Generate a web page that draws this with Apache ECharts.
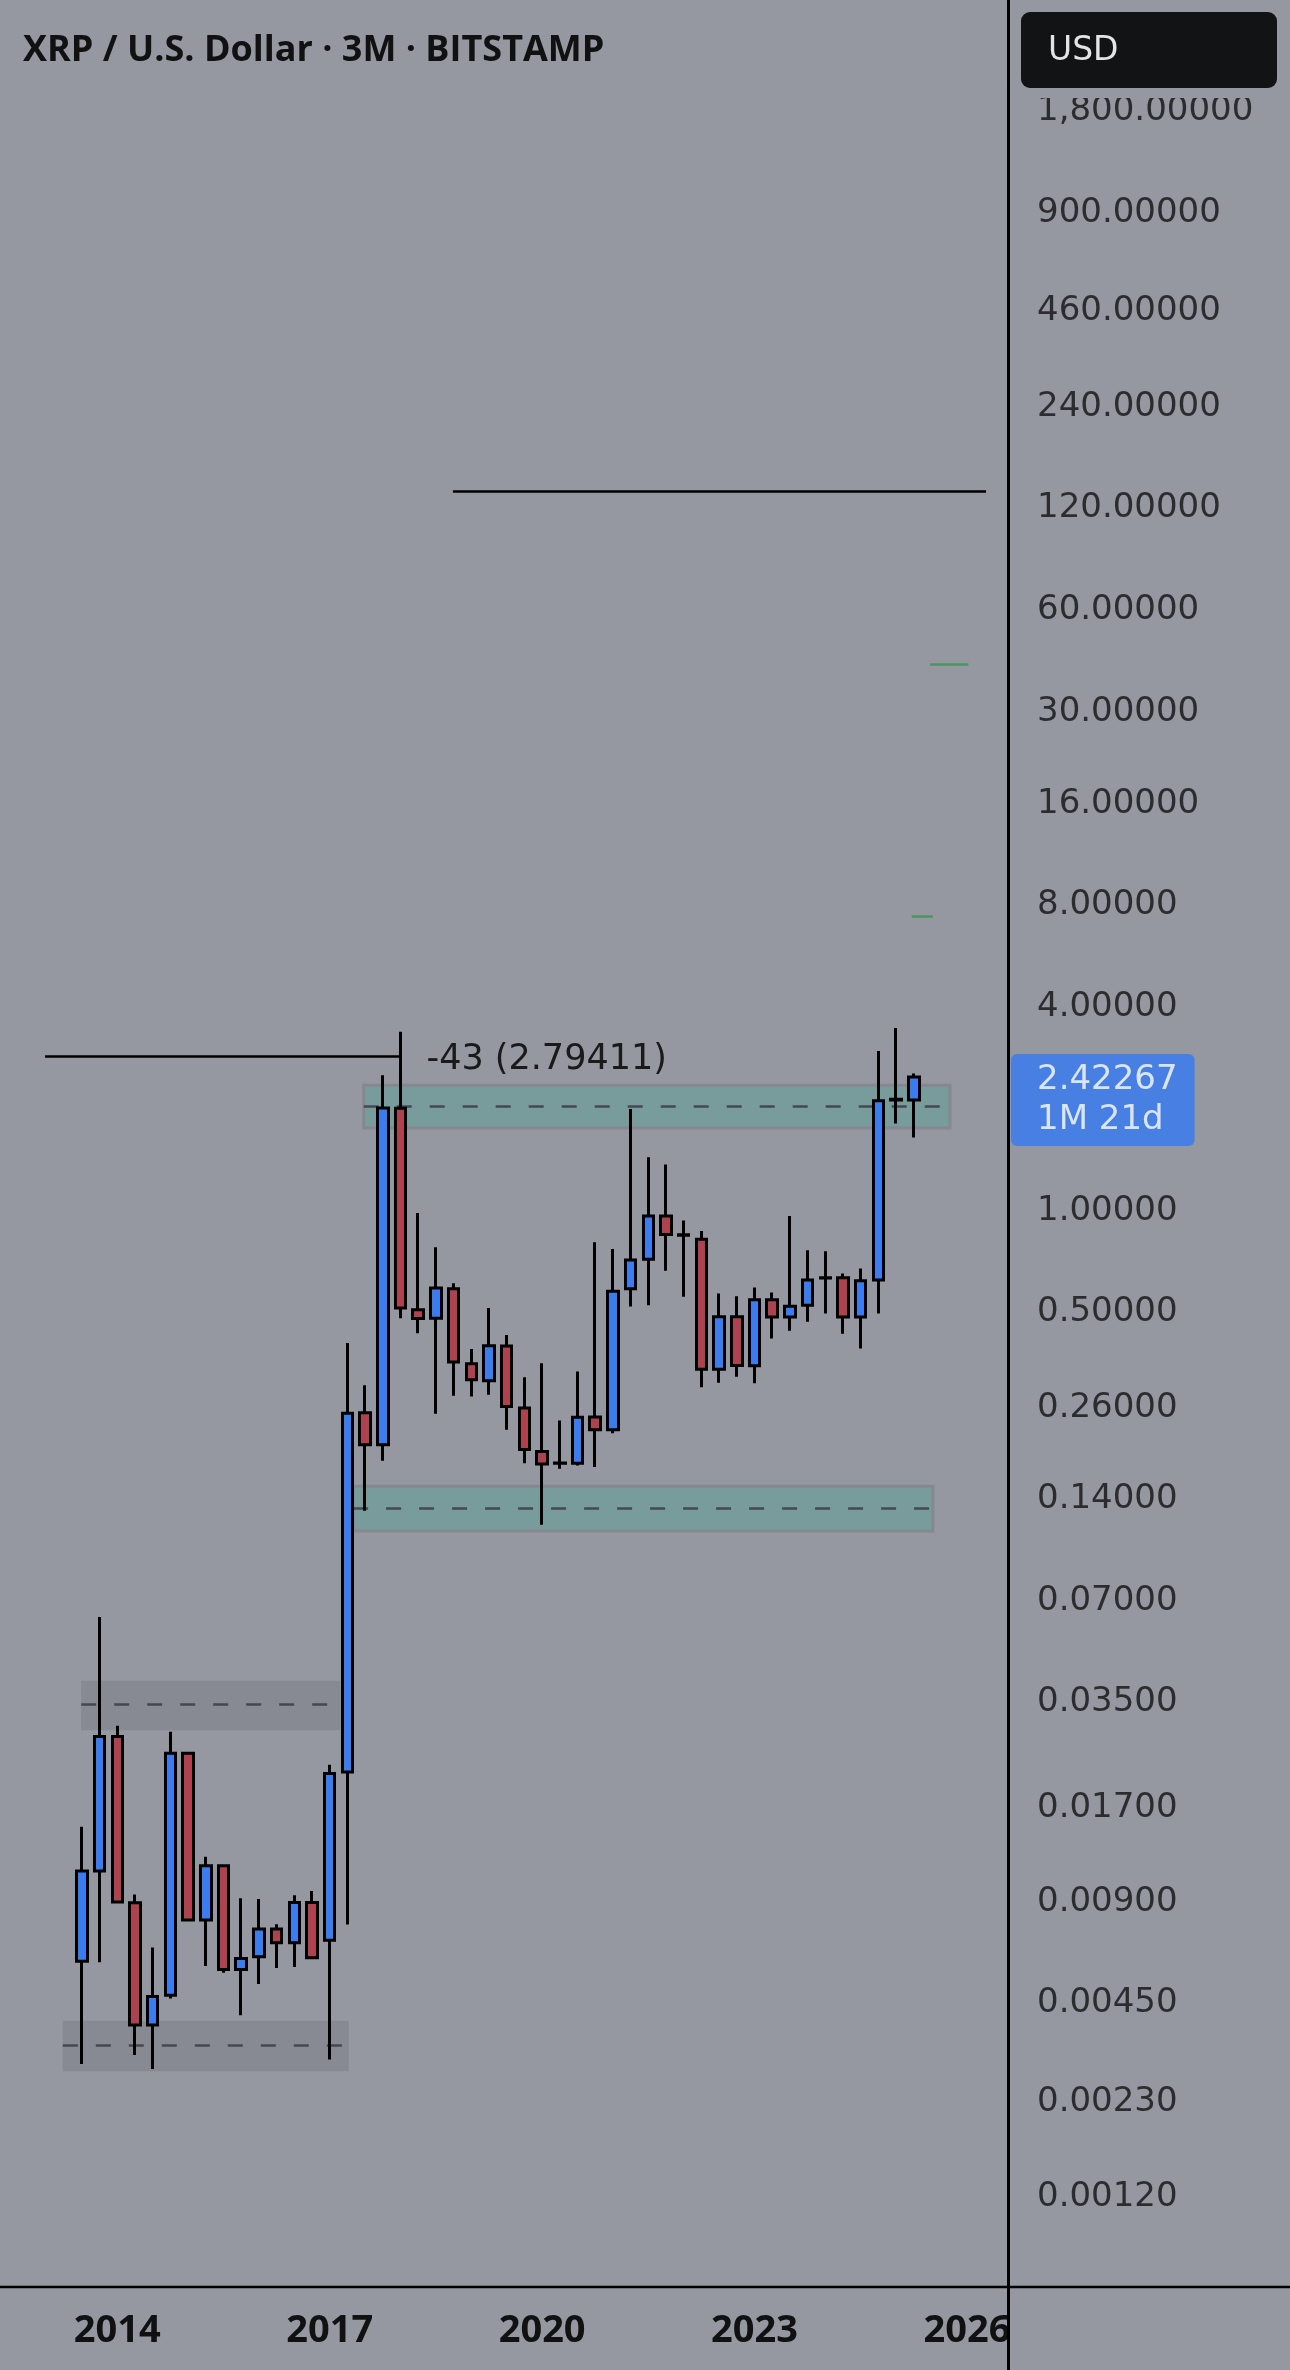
<!DOCTYPE html>
<html>
<head>
<meta charset="utf-8">
<title>XRP / U.S. Dollar · 3M · BITSTAMP</title>
<script src="https://cdn.jsdelivr.net/npm/echarts@6/dist/echarts.min.js"></script>
<style>
  html, body { margin: 0; padding: 0; background: #9598a1; }
  #chart { width: 1290px; height: 2370px; }
</style>
</head>
<body>
<div id="chart"></div>
<script>
// quarterly candles (3M), Q3 2013 .. Q2 2025
const quarters = [
  '2013 Q3', '2013 Q4',
  '2014 Q1', '2014 Q2', '2014 Q3', '2014 Q4',
  '2015 Q1', '2015 Q2', '2015 Q3', '2015 Q4',
  '2016 Q1', '2016 Q2', '2016 Q3', '2016 Q4',
  '2017 Q1', '2017 Q2', '2017 Q3', '2017 Q4',
  '2018 Q1', '2018 Q2', '2018 Q3', '2018 Q4',
  '2019 Q1', '2019 Q2', '2019 Q3', '2019 Q4',
  '2020 Q1', '2020 Q2', '2020 Q3', '2020 Q4',
  '2021 Q1', '2021 Q2', '2021 Q3', '2021 Q4',
  '2022 Q1', '2022 Q2', '2022 Q3', '2022 Q4',
  '2023 Q1', '2023 Q2', '2023 Q3', '2023 Q4',
  '2024 Q1', '2024 Q2', '2024 Q3', '2024 Q4',
  '2025 Q1', '2025 Q2'
];
const opens = [
  0.00584, 0.0108,
  0.0270, 0.0087, 0.00378, 0.00463,
  0.0241, 0.00773, 0.0112, 0.00552,
  0.00602, 0.00727, 0.00663, 0.00871,
  0.00674, 0.0212, 0.2457, 0.1974,
  1.958, 0.4955, 0.468, 0.572,
  0.343, 0.3053, 0.387, 0.2535,
  0.1884, 0.174, 0.174, 0.2386,
  0.2187, 0.572, 0.6993, 0.938,
  0.826, 0.8017, 0.3305, 0.4722,
  0.3384, 0.530, 0.472, 0.5112,
  0.6158, 0.6158, 0.472, 0.6064,
  2.08, 2.07
];
const highs = [
  0.0146, 0.061,
  0.0291, 0.0092, 0.00641, 0.0279,
  0.0243, 0.0119, 0.0113, 0.00897,
  0.00892, 0.00752, 0.00916, 0.00942,
  0.0223, 0.395, 0.2963, 2.452,
  3.294, 0.958, 0.7586, 0.5932,
  0.379, 0.5013, 0.417, 0.3129,
  0.3439, 0.2328, 0.3253, 0.785,
  0.7496, 1.947, 1.4023, 1.334,
  0.911, 0.847, 0.5538, 0.543,
  0.5768, 0.5575, 0.938, 0.7436,
  0.7385, 0.6346, 0.6567, 2.89,
  3.379, 2.48
];
const lows = [
  0.0029, 0.0058,
  0.0087, 0.00308, 0.0028, 0.00453,
  0.0077, 0.00565, 0.0054, 0.00404,
  0.0050, 0.00558, 0.00562, 0.00598,
  0.00299, 0.0075, 0.1258, 0.177,
  0.468, 0.4218, 0.2438, 0.2755,
  0.2743, 0.2775, 0.2187, 0.1739,
  0.1144, 0.1677, 0.1714, 0.1696,
  0.2136, 0.5066, 0.5112, 0.6462,
  0.541, 0.2924, 0.3012, 0.3138,
  0.300, 0.4074, 0.4297, 0.4563,
  0.4833, 0.421, 0.3806, 0.4833,
  1.765, 1.604
];
const closes = [
  0.0108, 0.0270,
  0.00875, 0.00378, 0.00459, 0.0241,
  0.00773, 0.0112, 0.00552, 0.00595,
  0.00727, 0.00663, 0.00871, 0.00598,
  0.0210, 0.2446, 0.1974, 1.960,
  0.5013, 0.4665, 0.5744, 0.347,
  0.3076, 0.3874, 0.2561, 0.1912,
  0.173, 0.1742, 0.238, 0.2187,
  0.562, 0.6951, 0.938, 0.828,
  0.823, 0.3305, 0.4722, 0.339,
  0.5301, 0.472, 0.5078, 0.6064,
  0.6150, 0.472, 0.6033, 2.058,
  2.07, 2.42267
];

// price scale labels (log scale) and time labels
const tickValues = [1800, 900, 460, 240, 120, 60, 30, 16, 8, 4, 1, 0.5, 0.26, 0.14, 0.07, 0.035, 0.017, 0.009, 0.0045, 0.0023, 0.0012];
const yearTicks = [2014, 2017, 2020, 2023, 2026];
const lastPrice = 2.42267;
const countdown = '1M 21d';

// drawn zones: [fromYear, toYear, low, high, dashed level]
const tealZones = [
  [2017.48, 2025.76, 1.709, 2.29, 1.985],
  [2017.33, 2025.52, 0.1096, 0.1488, 0.128]
];
const grayZones = [
  [2013.49, 2017.15, 0.0282, 0.0395, 0.0336],
  [2013.23, 2017.27, 0.00276, 0.00389, 0.00329]
];
// drawn horizontal lines: [fromYear, toYear, price]
const blackLines = [
  [2012.98, 2018.0, 2.79411],
  [2018.74, 2026.27, 131]
];
const greenLines = [
  [2025.48, 2026.02, 40.4],
  [2025.22, 2025.52, 7.25]
];
const measureText = '-43 (2.79411)';

const X_MIN = 2012.343, X_MAX = 2026.58;
const Y_MIN = 0.000634, Y_MAX = 3735;

const toYear = q => {
  const [y, qq] = q.split(' Q');
  return Number(y) + (Number(qq) - 1) / 4;
};
const fmtPrice = v => v.toLocaleString('en-US', { minimumFractionDigits: 5, maximumFractionDigits: 5 });

const candles = quarters.map((q, i) => [toYear(q), opens[i], closes[i], lows[i], highs[i]]);

const zoneArea = (z, fill, border) => [
  { coord: [z[0], z[3]], itemStyle: { color: fill, borderColor: border, borderWidth: border ? 3 : 0 } },
  { coord: [z[1], z[2]] }
];
const seg = (l, extra) => [
  Object.assign({ coord: [l[0], l[2]] }, extra || {}),
  { coord: [l[1], l[2]] }
];

const FONT_AXIS = 'DejaVu Sans';

const chart = echarts.init(document.getElementById('chart'));

const option = {
  animation: false,
  backgroundColor: '#9598a1',
  title: {
    text: 'XRP / U.S. Dollar · 3M · BITSTAMP',
    left: 23,
    top: 33,
    padding: 0,
    textStyle: { fontFamily: 'Open Sans', fontWeight: 'bold', fontSize: 36, color: '#111' }
  },
  grid: [
    { left: 0, top: 0, width: 1008, bottom: 83 },
    { left: 1008, top: 0, right: 0, bottom: 83 }
  ],
  xAxis: [
    {
      type: 'value',
      gridIndex: 0,
      min: X_MIN,
      max: X_MAX,
      axisLine: { show: false },
      axisTick: { show: false },
      splitLine: { show: false },
      axisLabel: {
        customValues: yearTicks,
        formatter: v => String(v),
        fontFamily: 'Open Sans',
        fontWeight: 'bold',
        fontSize: 38,
        color: '#111',
        margin: 25
      }
    },
    { type: 'value', gridIndex: 1, min: 0, max: 282, show: false }
  ],
  yAxis: [
    {
      type: 'log',
      logBase: 2,
      gridIndex: 0,
      min: Y_MIN,
      max: Y_MAX,
      position: 'right',
      axisLine: { show: false },
      axisTick: { show: false },
      axisLabel: { show: false },
      splitLine: { show: false }
    },
    { type: 'log', logBase: 2, gridIndex: 1, min: Y_MIN, max: Y_MAX, show: false }
  ],
  series: [
    {
      // support / resistance zones, behind the candles
      name: 'zones',
      type: 'line',
      data: [],
      silent: true,
      markArea: {
        silent: true,
        z: 1,
        data: tealZones.map(z => zoneArea(z, '#789b9c', '#858891'))
          .concat(grayZones.map(z => zoneArea(z, '#878993', null)))
      },
      markLine: {
        silent: true,
        z: 1,
        symbol: ['none', 'none'],
        label: { show: false },
        lineStyle: { color: '#444851', width: 2.5, type: [15, 18] },
        data: tealZones.concat(grayZones).map(z => seg([z[0], z[1], z[4]]))
      }
    },
    {
      name: 'XRPUSD',
      type: 'candlestick',
      data: candles,
      barWidth: 11,
      itemStyle: {
        color: '#3b7dee',
        color0: '#ae424e',
        borderColor: '#000',
        borderColor0: '#000',
        borderColorDoji: '#000',
        borderWidth: 3
      },
      z: 2
    },
    {
      name: 'lines',
      type: 'line',
      data: [],
      silent: true,
      markLine: {
        silent: true,
        symbol: ['none', 'none'],
        label: { show: false },
        data: blackLines.map((l, i) => seg(l, {
          lineStyle: { color: '#000', width: 2.7, type: 'solid' },
          label: i === 0 ? {
            show: true,
            position: 'end',
            distance: 26,
            offset: [0, 4],
            formatter: measureText,
            color: '#1a1a1a',
            fontSize: 35,
            fontFamily: FONT_AXIS
          } : { show: false }
        })).concat(greenLines.map(l => seg(l, {
          lineStyle: { color: '#4f9460', width: 2.5, type: 'solid' }
        })))
      }
    },
    {
      // price scale labels
      name: 'priceScale',
      type: 'scatter',
      xAxisIndex: 1,
      yAxisIndex: 1,
      silent: true,
      symbol: 'circle',
      symbolSize: 0,
      data: tickValues.map(v => [29, v]),
      label: {
        show: true,
        position: 'right',
        distance: 0,
        offset: [0, 4],
        formatter: p => fmtPrice(p.value[1]),
        color: '#111',
        fontSize: 34,
        fontFamily: FONT_AXIS
      },
      z: 3
    },
    {
      // last price tag
      name: 'lastPrice',
      type: 'scatter',
      xAxisIndex: 1,
      yAxisIndex: 1,
      silent: true,
      symbol: 'circle',
      symbolSize: 0,
      data: [[3, lastPrice]],
      label: {
        show: true,
        position: 'right',
        distance: 0,
        offset: [0, 23],
        formatter: () => fmtPrice(lastPrice) + '\n' + countdown,
        backgroundColor: '#3479f2',
        borderRadius: 6,
        padding: [5, 17, 7, 26],
        lineHeight: 40,
        color: '#fff',
        fontSize: 34,
        fontFamily: FONT_AXIS
      },
      z: 4
    }
  ],
  graphic: [
    { type: 'rect', z: 99, shape: { x: 1011, y: 86, width: 279, height: 12 }, style: { fill: '#9598a1' } },
    { type: 'rect', z: 100, shape: { x: 1021, y: 12, width: 256, height: 76, r: 9 }, style: { fill: '#121315' } },
    { type: 'text', z: 101, x: 1048, y: 51, style: { text: 'USD', fill: '#e4e4e4', font: '33px "DejaVu Sans"', verticalAlign: 'middle' } },
    { type: 'line', z: 100, shape: { x1: 1008.5, y1: 0, x2: 1008.5, y2: 2370 }, style: { stroke: '#000', lineWidth: 3 } },
    { type: 'line', z: 100, shape: { x1: 0, y1: 2287, x2: 1290, y2: 2287 }, style: { stroke: '#000', lineWidth: 2.5 } }
  ]
};

chart.setOption(option);

window.addEventListener('resize', () => chart.resize());
</script>
</body>
</html>
